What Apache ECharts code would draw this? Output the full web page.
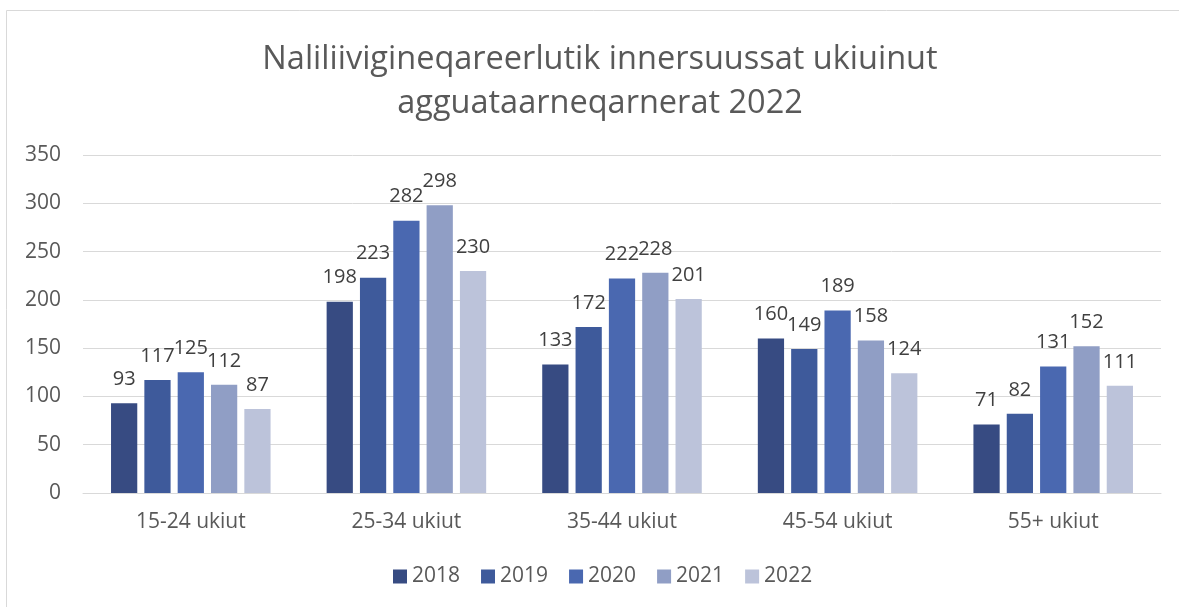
<!DOCTYPE html>
<html>
<head>
<meta charset="utf-8">
<script src="https://cdn.jsdelivr.net/npm/echarts@6/dist/echarts.min.js"></script>
<style>
  html, body {margin: 0; padding: 0; background: #fff;}
  #chart {width: 1179px; height: 607px;}
</style>
</head>
<body>
<div id="chart"></div>
<script>
const categories = ["15-24 ukiut", "25-34 ukiut", "35-44 ukiut", "45-54 ukiut", "55+ ukiut"];
const years = ["2018", "2019", "2020", "2021", "2022"];
const v2018 = [93, 198, 133, 160, 71];
const v2019 = [117, 223, 172, 149, 82];
const v2020 = [125, 282, 222, 189, 131];
const v2021 = [112, 298, 228, 158, 152];
const v2022 = [87, 230, 201, 124, 111];
const yTicks = [0, 50, 100, 150, 200, 250, 300, 350];

const colors = ["#374b82", "#3e5a9b", "#4a68b0", "#909ec5", "#bcc3da"];
const values = [v2018, v2019, v2020, v2021, v2022];
const font = "'Open Sans', 'Noto Sans', sans-serif";

const series = years.map((y, i) => {
  return {
    type: "bar",
    name: y,
    data: values[i],
    barGap: "27%",
    barCategoryGap: "26%",
    itemStyle: {color: colors[i]},
    label: {
      show: true,
      position: "top",
      distance: 14,
      color: "#404040",
      fontFamily: font,
      fontSize: 20,
    },
  };
});

const chart = echarts.init(document.getElementById("chart"), null, {renderer: "canvas"});
chart.setOption({
  animation: false,
  textStyle: {fontFamily: font},
  title: {
    text: "Naliliivigineqareerlutik innersuussat ukiuinut\nagguataarneqarnerat 2022",
    left: 595,
    textAlign: "center",
    top: 33,
    textStyle: {
      color: "#595959",
      fontWeight: "normal",
      fontFamily: font,
      fontSize: 32.5,
      lineHeight: 44,
    },
  },
  graphic: [
    {
      type: "rect",
      shape: {x: 6.5, y: 10.5, width: 1300, height: 800},
      style: {fill: "none", stroke: "#d9d9d9", lineWidth: 1},
      silent: true,
    },
  ],
  legend: {
    data: years,
    bottom: 15,
    left: 388,
    itemWidth: 14,
    itemHeight: 14,
    itemGap: 21,
    icon: "rect",
    textStyle: {color: "#595959", fontSize: 21, fontFamily: font},
  },
  grid: {left: 83, right: 18, top: 155, bottom: 114},
  xAxis: {
    type: "category",
    data: categories,
    axisTick: {show: false},
    axisLine: {lineStyle: {color: "#d9d9d9"}},
    axisLabel: {color: "#595959", fontSize: 21, margin: 19, fontFamily: font},
  },
  yAxis: {
    type: "value",
    min: yTicks[0],
    max: yTicks[yTicks.length - 1],
    interval: 50,
    axisLine: {show: false},
    axisTick: {show: false},
    splitLine: {lineStyle: {color: "#d9d9d9"}},
    axisLabel: {color: "#595959", fontSize: 21, margin: 22, fontFamily: font},
  },
  series: series,
});
</script>
</body>
</html>
